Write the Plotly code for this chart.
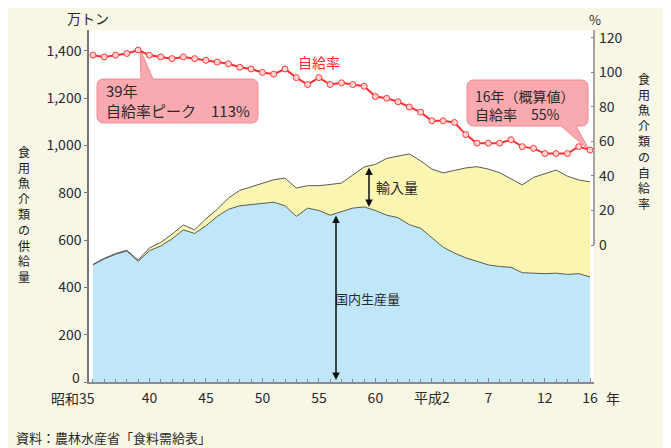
import plotly.graph_objects as go

# ---- data (万トン / %) ----
years = list(range(1960, 2005))
domestic = [495, 520, 540, 554, 510, 555, 575, 605, 643, 628,
            660, 700, 730, 745, 750, 755, 760, 745, 700, 735,
            725, 705, 720, 735, 740, 725, 705, 695, 665, 650,
            610, 570, 545, 525, 510, 495, 488, 485, 462, 460,
            458, 460, 455, 458, 444]
total = [497, 523, 543, 557, 515, 567, 590, 625, 664, 643,
         690, 730, 778, 810, 825, 840, 855, 862, 820, 830,
         830, 835, 841, 875, 909, 920, 945, 955, 964, 935,
         900, 884, 895, 905, 910, 900, 885, 860, 833, 865,
         880, 896, 870, 854, 846]
rate = [110, 109, 110, 111, 113, 110, 109, 108, 109, 108,
        107, 106, 105, 103, 102, 100, 99, 102, 97, 93,
        97, 93, 94, 93, 92, 86, 85, 83, 80, 77,
        72, 72, 71, 64, 59, 59, 59, 61, 57, 56,
        53, 53, 53, 57, 55]
x_tickvals = [1965, 1970, 1975, 1980, 1985, 1990, 1995, 2000, 2004]
x_ticktext = ['40', '45', '50', '55', '60', '平成2', '7', '12', '16']
y1_tickvals = [0, 200, 400, 600, 800, 1000, 1200, 1400]
y1_ticktext = ['', '200', '400', '600', '800', '1,000', '1,200', '1,400']
y2_ticks = [0, 20, 40, 60, 80, 100, 120]

FONT = "Noto Sans CJK JP"
OFF = 8  # page body margin
W, H = 671, 448
L, R, T, B = 89, 594, 30, 382
XR = [1959.65, 2004.35]
Y1R = [0, 1488]
Y2R = [-79.4, 124.6]

def X(px):
    return XR[0] + (px - L) / (R - L) * (XR[1] - XR[0])

def Y1(py):
    return Y1R[0] + (B - py) / (B - T) * (Y1R[1] - Y1R[0])

def Y2(py):
    return Y2R[0] + (B - py) / (B - T) * (Y2R[1] - Y2R[0])

def PX(px):
    return (px - L) / (R - L)

def PY(py):
    return (B - py) / (B - T)

def path(points):
    s = ""
    for p in points:
        if p[0] == 'Q':
            s += " Q%.4f,%.4f %.4f,%.4f" % (X(p[1]), Y2(p[2]), X(p[3]), Y2(p[4]))
        else:
            s += " %s%.4f,%.4f" % (p[0], X(p[1]), Y2(p[2]))
    return s + " Z"

fig = go.Figure()
fig.add_trace(go.Scatter(x=years, y=domestic, mode='lines', fill='tozeroy',
                         fillcolor='#bfe7f7', line=dict(color='#5a5a5a', width=1),
                         hoverinfo='skip', showlegend=False))
fig.add_trace(go.Scatter(x=years, y=total, mode='lines', fill='tonexty',
                         fillcolor='#fbf5b2', line=dict(color='#5a5a5a', width=1),
                         hoverinfo='skip', showlegend=False))
fig.add_trace(go.Scatter(x=years, y=rate, yaxis='y2', mode='lines+markers',
                         line=dict(color='#ff3030', width=2),
                         marker=dict(symbol='circle', size=6, color='#ffd4d4',
                                     line=dict(color='#ff3a3a', width=1)),
                         hoverinfo='skip', showlegend=False))

# callout boxes
r = 7
x0, y0, x1, y1 = 97, 79, 258, 123
box1 = [('M', x0 + r, y0), ('L', 141, y0), ('L', 140, 49), ('L', 153, y0),
        ('L', x1 - r, y0), ('Q', x1, y0, x1, y0 + r), ('L', x1, y1 - r),
        ('Q', x1, y1, x1 - r, y1), ('L', x0 + r, y1), ('Q', x0, y1, x0, y1 - r),
        ('L', x0, y0 + r), ('Q', x0, y0, x0 + r, y0)]
x0, y0, x1, y1 = 467, 80, 588, 126
box2 = [('M', x0 + r, y0), ('L', x1 - r, y0), ('Q', x1, y0, x1, y0 + r),
        ('L', x1, y1 - r), ('Q', x1, y1, x1 - r, y1), ('L', 576, y1),
        ('L', 590, 151), ('L', 561, y1), ('L', x0 + r, y1),
        ('Q', x0, y1, x0, y1 - r), ('L', x0, y0 + r), ('Q', x0, y0, x0 + r, y0)]
shapes = []
for b in (box1, box2):
    shapes.append(dict(type='path', path=path(b), xref='x', yref='y2',
                       fillcolor='#f9a9b0', line=dict(color='#f28a95', width=1),
                       layer='below'))
# right axis line (only 0 and above)
shapes.append(dict(type='line', xref='paper', yref='y2', x0=1, x1=1, y0=0, y1=Y2R[1],
                   line=dict(color='#8a8a8a', width=1.5)))

ann = []
def txt(text, px, py, size=14, color='#2a2a2a', xanchor='center', align='center', yanchor='middle'):
    ann.append(dict(text=text, xref='paper', yref='paper', x=PX(px), y=PY(py),
                    showarrow=False, xanchor=xanchor, yanchor=yanchor, align=align,
                    font=dict(family=FONT, size=size, color=color)))

txt("39年<br>自給率ピーク　113%", 104, 101, size=15, xanchor='left', align='left')
txt("16年（概算値）<br>自給率　55%", 473, 105, size=14, xanchor='left', align='left')
txt("自給率", 319, 62, size=14, color='#ff2a2a')
txt("輸入量", 397, 187, size=14)
txt("国内生産量", 367, 298, size=13)
txt("万トン", 88, 18, size=14)
txt("%", 595, 19, size=13)
txt("<br>".join("食用魚介類の供給量"), 24, 214, size=12, color='#1a1a1a')
txt("<br>".join("食用魚介類の自給率"), 644, 141, size=12, color='#1a1a1a')
txt("0", 76, 377, size=14)
txt("昭和35", 97, 398, size=14, xanchor='right')
txt("年", 613, 398, size=14)
txt("資料：農林水産省「食料需給表」", 14, 437, size=13, xanchor='left', align='left')

# double arrows
for (px, pa, pb) in [(369, 166, 207), (336, 214, 380)]:
    ann.append(dict(text='', x=X(px), y=Y1(pb), ax=X(px), ay=Y1(pa),
                    xref='x', yref='y', axref='x', ayref='y', showarrow=True,
                    arrowhead=2, startarrowhead=2, arrowside='end+start',
                    arrowsize=1, arrowwidth=1.5, arrowcolor='#111',
                    standoff=0, startstandoff=0))

fig.update_layout(
    width=W - OFF, height=H - OFF,
    margin=dict(l=L - OFF, r=W - R, t=T - OFF, b=H - B),
    paper_bgcolor='#f8f7e6', plot_bgcolor='#ffffff',
    font=dict(family=FONT, size=14, color='#333'),
    showlegend=False,
    xaxis=dict(range=XR, tickvals=x_tickvals, ticktext=x_ticktext,
               showgrid=False, zeroline=False, showline=True, linecolor='#8a8a9a',
               linewidth=1.5, ticks='inside', ticklen=4, tickcolor='#8a8a9a',
               minor=dict(dtick=1, ticks='inside', ticklen=3, tickcolor='#8a8a9a'),
               ticklabelstandoff=2, tickfont=dict(size=14, color='#2a2a2a')),
    yaxis=dict(range=Y1R, tickvals=y1_tickvals, ticktext=y1_ticktext, showgrid=False,
               zeroline=False, showline=True, linecolor='#777', linewidth=1.5,
               ticks='outside', ticklen=3, tickcolor='#777',
               tickfont=dict(size=14, color='#2a2a2a')),
    yaxis2=dict(range=Y2R, tickvals=y2_ticks, overlaying='y', side='right',
                showgrid=False, zeroline=False, showline=False,
                ticks='inside', ticklen=3, tickcolor='#888',
                ticklabelstandoff=4, tickfont=dict(size=14, color='#2a2a2a')),
    shapes=shapes, annotations=ann,
)

fig.write_html("out.html")
